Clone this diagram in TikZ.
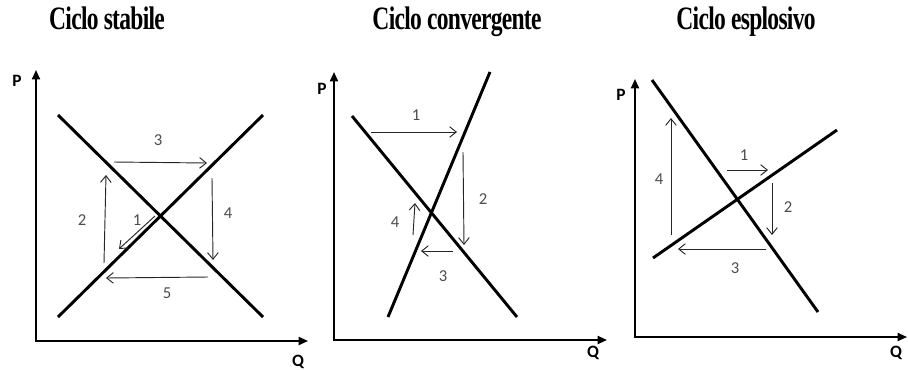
\documentclass[tikz,border=0pt]{standalone}
\usepackage{fontspec}
\setmainfont{Liberation Serif}
\newfontfamily\calibri{Carlito}
\usetikzlibrary{arrows.meta}

\begin{document}
\begin{tikzpicture}[x=0.75pt, y=-0.75pt,
    axis/.style={line width=1.4pt, {Triangle[length=7pt,width=6pt]}-{Triangle[length=7pt,width=6pt]}},
    curve/.style={line width=2.2pt},
    move/.style={line width=0.7pt, black!85, -{Straight Barb[length=5pt,width=8pt]}},
    num/.style={font=\calibri\fontsize{12.5}{14}\selectfont, text=black!70},
    axlabel/.style={font=\calibri\bfseries\fontsize{13}{15}\selectfont},
    title/.style={font=\bfseries\fontsize{24.5}{28}\selectfont, anchor=base}]
  \useasboundingbox (0,0) rectangle (908,369);

  \node[title] (stabile) at (107,29) {\scalebox{0.72}[1]{\addfontfeatures{LetterSpace=-3}Ciclo stabile}};
  \node[title] (convergente) at (457,29) {\scalebox{0.72}[1]{\addfontfeatures{LetterSpace=-3}Ciclo convergente}};
  \node[title] (esplosivo) at (746,29) {\scalebox{0.72}[1]{\addfontfeatures{LetterSpace=-3}Ciclo esplosivo}};

  \foreach \k/\ox/\oy/\top/\right/\px/\py/\qx/\qy in
      {1/36/341/70/308/17/81/298/362, 2/334/340/72/607/322/89/593/353, 3/635/337/79/907/621/95/896/353} {
    \draw[axis] (\ox,\top) -- (\ox,\oy) -- (\right,\oy);
    \node[axlabel] (P\k) at (\px,\py) {P};
    \node[axlabel] (Q\k) at (\qx,\qy) {Q};
  }

  \draw[curve] (58,115) -- (263,317);
  \draw[curve] (58,317) -- (263,115);
  \foreach \xa/\ya/\xb/\yb in {155/216/119/249, 104/263/106/175, 114/162/207/163, 212/178/213/260, 208/277/106/278}
    \draw[move] (\xa,\ya) -- (\xb,\yb);
  \foreach \n/\x/\y in {1/137/220, 2/82/220, 3/158/140, 4/228/213, 5/167/293}
    \node[num] (s\n) at (\x,\y) {\n};

  \draw[curve] (388,317) -- (490,72);
  \draw[curve] (352,116) -- (517,317);
  \foreach \xa/\ya/\xb/\yb in {371/132/457/132, 463/152/464/245, 453/251/421/251, 413/235/415/203}
    \draw[move] (\xa,\ya) -- (\xb,\yb);
  \foreach \n/\x/\y in {1/416/115, 2/483/199, 3/443/276, 4/395/222}
    \node[num] (c\n) at (\x,\y) {\n};

  \draw[curve] (652,80) -- (818,312);
  \draw[curve] (653,258) -- (837,130);
  \foreach \xa/\ya/\xb/\yb in {727/170/768/170, 772/183/772/235, 766/249/678/249, 671/235/671/118}
    \draw[move] (\xa,\ya) -- (\xb,\yb);
  \foreach \n/\x/\y in {1/744/155, 2/788/207, 3/735/268, 4/659/179}
    \node[num] (e\n) at (\x,\y) {\n};
\end{tikzpicture}
\end{document}
